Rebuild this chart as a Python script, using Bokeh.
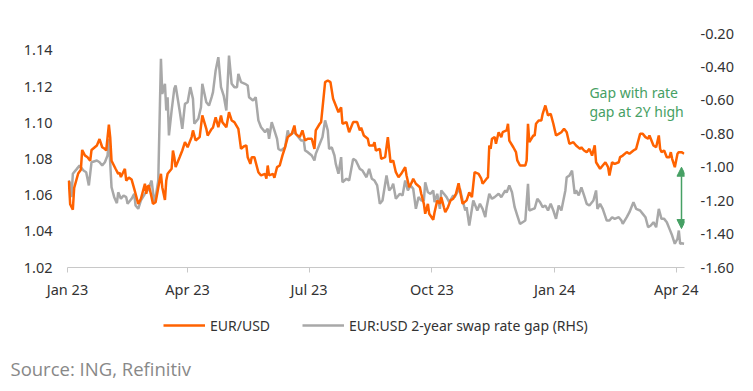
import pandas as pd
from bokeh.plotting import figure
from bokeh.layouts import column
from bokeh.models import (Range1d, LinearAxis, FixedTicker, DatetimeTickFormatter,
                          NumeralTickFormatter, Legend, LegendItem, Label, Arrow,
                          NormalHead, ColumnDataSource)
from bokeh.embed import file_html
from bokeh.resources import INLINE

# ---------------- data ----------------
eur_dates = [
 "2023-01-02","2023-01-03","2023-01-05","2023-01-06","2023-01-09","2023-01-11","2023-01-12","2023-01-14","2023-01-16","2023-01-18",
 "2023-01-19","2023-01-23","2023-01-25","2023-01-27","2023-01-29","2023-01-30","2023-02-01","2023-02-02","2023-02-03","2023-02-06",
 "2023-02-08","2023-02-09","2023-02-10","2023-02-13","2023-02-14","2023-02-16","2023-02-18","2023-02-20","2023-02-21","2023-02-23",
 "2023-02-25","2023-02-28","2023-03-01","2023-03-02","2023-03-03","2023-03-05","2023-03-06","2023-03-08","2023-03-11","2023-03-12",
 "2023-03-13","2023-03-15","2023-03-16","2023-03-17","2023-03-20","2023-03-21","2023-03-22","2023-03-23","2023-03-26","2023-03-28",
 "2023-03-30","2023-04-01","2023-04-04","2023-04-05","2023-04-07","2023-04-10","2023-04-12","2023-04-15","2023-04-16","2023-04-19",
 "2023-04-20","2023-04-22","2023-04-24","2023-04-26","2023-04-27","2023-04-30","2023-05-02","2023-05-04","2023-05-06","2023-05-09",
 "2023-05-11","2023-05-13","2023-05-15","2023-05-16","2023-05-18","2023-05-19","2023-05-21","2023-05-24","2023-05-26","2023-05-29",
 "2023-05-30","2023-05-31","2023-06-01","2023-06-04","2023-06-05","2023-06-07","2023-06-09","2023-06-11","2023-06-13","2023-06-15",
 "2023-06-18","2023-06-20","2023-06-21","2023-06-24","2023-06-26","2023-06-28","2023-06-30","2023-07-03","2023-07-05","2023-07-06",
 "2023-07-09","2023-07-10","2023-07-13","2023-07-15","2023-07-17","2023-07-19","2023-07-21","2023-07-23","2023-07-25","2023-07-26",
 "2023-07-29","2023-07-31","2023-08-03","2023-08-06","2023-08-08","2023-08-09","2023-08-11","2023-08-14","2023-08-15","2023-08-18",
 "2023-08-19","2023-08-20","2023-08-23","2023-08-24","2023-08-27","2023-08-29","2023-08-31","2023-09-02","2023-09-04","2023-09-06",
 "2023-09-08","2023-09-11","2023-09-12","2023-09-14","2023-09-16","2023-09-17","2023-09-19","2023-09-22","2023-09-23","2023-09-25",
 "2023-09-26","2023-09-28","2023-09-29","2023-10-02","2023-10-03","2023-10-05","2023-10-07","2023-10-08","2023-10-10","2023-10-11",
 "2023-10-13","2023-10-15","2023-10-17","2023-10-19","2023-10-21","2023-10-23","2023-10-24","2023-10-27","2023-10-29","2023-10-31",
 "2023-11-02","2023-11-05","2023-11-07","2023-11-08","2023-11-11","2023-11-12","2023-11-13","2023-11-14","2023-11-15","2023-11-17",
 "2023-11-18","2023-11-20","2023-11-22","2023-11-23","2023-11-26","2023-11-27","2023-11-28","2023-12-01","2023-12-03","2023-12-04",
 "2023-12-06","2023-12-10","2023-12-11","2023-12-12","2023-12-13","2023-12-16","2023-12-17","2023-12-18","2023-12-20","2023-12-22",
 "2023-12-23","2023-12-25","2023-12-27","2023-12-29","2023-12-31","2024-01-02","2024-01-04","2024-01-06","2024-01-08","2024-01-10",
 "2024-01-12","2024-01-15","2024-01-17","2024-01-20","2024-01-21","2024-01-23","2024-01-25","2024-01-27","2024-01-29","2024-01-31",
 "2024-02-01","2024-02-04","2024-02-06","2024-02-08","2024-02-10","2024-02-11","2024-02-13","2024-02-15","2024-02-18","2024-02-19",
 "2024-02-21","2024-02-24","2024-02-26","2024-02-29","2024-03-02","2024-03-05","2024-03-07","2024-03-09","2024-03-11","2024-03-12",
 "2024-03-15","2024-03-17","2024-03-19","2024-03-20","2024-03-21","2024-03-23","2024-03-25","2024-03-27","2024-03-28","2024-03-29",
 "2024-03-31","2024-04-02","2024-04-03","2024-04-05","2024-04-07",
]
eur_usd = [
 1.068,1.055,1.052,1.064,1.072,1.074,1.085,1.082,1.081,1.079,
 1.085,1.0875,1.091,1.0865,1.0856,1.0847,1.099,1.092,1.079,1.0746,
 1.0718,1.0725,1.070,1.0746,1.068,1.0698,1.0687,1.0635,1.0608,1.0552,
 1.058,1.0663,1.0608,1.0648,1.0653,1.0589,1.0552,1.0561,1.0681,1.0718,
 1.0644,1.0574,1.0681,1.0718,1.0746,1.0847,1.081,1.0755,1.081,1.0847,
 1.0893,1.0865,1.0921,1.0958,1.0902,1.0921,1.1041,1.0967,1.093,1.0967,
 1.0974,1.1031,1.0976,1.1041,1.1004,1.0976,1.1059,1.1013,1.1004,1.0967,
 1.0856,1.0869,1.0875,1.081,1.0773,1.081,1.081,1.0727,1.0709,1.0718,
 1.0691,1.0764,1.0709,1.0718,1.0696,1.0755,1.0764,1.0819,1.0865,1.0921,
 1.0939,1.0985,1.0939,1.0921,1.0958,1.0902,1.0912,1.0912,1.0856,1.0958,
 1.0995,1.1004,1.1225,1.1234,1.1225,1.1133,1.1096,1.1059,1.1086,1.0995,
 1.1004,1.0948,1.1004,1.1004,1.0958,1.0974,1.093,1.0912,1.0875,1.0875,
 1.0893,1.0847,1.0856,1.0801,1.081,1.0921,1.0782,1.0792,1.0727,1.0699,
 1.0718,1.0755,1.0709,1.0644,1.0672,1.0691,1.0663,1.0644,1.0608,1.0552,
 1.0497,1.0552,1.0497,1.0464,1.0506,1.0571,1.0552,1.0589,1.0533,1.0506,
 1.0533,1.0571,1.058,1.0608,1.0666,1.0589,1.0552,1.0571,1.0616,1.0589,
 1.0727,1.0718,1.0691,1.0663,1.0691,1.0698,1.0875,1.0856,1.0912,1.0921,
 1.0884,1.0948,1.0921,1.0948,1.0958,1.0995,1.0902,1.0865,1.0838,1.0792,
 1.0764,1.0764,1.0792,1.0995,1.0893,1.093,1.093,1.0995,1.1013,1.1013,
 1.105,1.1096,1.1041,1.105,1.0995,1.093,1.0939,1.0948,1.0967,1.0948,
 1.0884,1.0893,1.0875,1.0856,1.0864,1.0847,1.0838,1.0856,1.0819,1.0875,
 1.0782,1.0746,1.0764,1.0782,1.0755,1.0709,1.0782,1.0773,1.0782,1.081,
 1.0819,1.0838,1.0829,1.0847,1.0856,1.0939,1.0939,1.0921,1.0912,1.093,
 1.0875,1.0865,1.093,1.0856,1.0838,1.0847,1.081,1.081,1.0838,1.0801,
 1.0755,1.0829,1.0838,1.0838,1.0829,
]

gap_dates = [
 "2023-01-02","2023-01-03","2023-01-04","2023-01-05","2023-01-08","2023-01-10","2023-01-13","2023-01-15","2023-01-17","2023-01-19",
 "2023-01-23","2023-01-25","2023-01-27","2023-01-29","2023-01-31","2023-02-01","2023-02-03","2023-02-05","2023-02-07","2023-02-08",
 "2023-02-10","2023-02-12","2023-02-14","2023-02-15","2023-02-18","2023-02-20","2023-02-21","2023-02-23","2023-02-25","2023-02-28",
 "2023-03-02","2023-03-03","2023-03-05","2023-03-07","2023-03-08","2023-03-10","2023-03-12","2023-03-13","2023-03-15","2023-03-16",
 "2023-03-17","2023-03-18","2023-03-20","2023-03-22","2023-03-23","2023-03-26","2023-03-28","2023-03-30","2023-04-01","2023-04-03",
 "2023-04-05","2023-04-06","2023-04-09","2023-04-11","2023-04-12","2023-04-15","2023-04-17","2023-04-19","2023-04-20","2023-04-22",
 "2023-04-24","2023-04-26","2023-04-28","2023-04-30","2023-05-02","2023-05-04","2023-05-06","2023-05-08","2023-05-09","2023-05-11",
 "2023-05-14","2023-05-16","2023-05-17","2023-05-20","2023-05-22","2023-05-24","2023-05-26","2023-05-29","2023-05-31","2023-06-01",
 "2023-06-03","2023-06-05","2023-06-07","2023-06-08","2023-06-10","2023-06-13","2023-06-15","2023-06-16","2023-06-18","2023-06-20",
 "2023-06-22","2023-06-25","2023-06-27","2023-06-28","2023-06-30","2023-07-03","2023-07-05","2023-07-06","2023-07-09","2023-07-11",
 "2023-07-13","2023-07-15","2023-07-16","2023-07-18","2023-07-20","2023-07-21","2023-07-23","2023-07-25","2023-07-26","2023-07-29",
 "2023-07-31","2023-08-03","2023-08-05","2023-08-08","2023-08-10","2023-08-13","2023-08-15","2023-08-17","2023-08-19","2023-08-21",
 "2023-08-23","2023-08-25","2023-08-28","2023-08-30","2023-09-01","2023-09-02","2023-09-04","2023-09-07","2023-09-09","2023-09-11",
 "2023-09-13","2023-09-15","2023-09-17","2023-09-19","2023-09-21","2023-09-23","2023-09-25","2023-09-26","2023-09-28","2023-09-30",
 "2023-10-02","2023-10-03","2023-10-05","2023-10-07","2023-10-08","2023-10-10","2023-10-12","2023-10-14","2023-10-17","2023-10-18",
 "2023-10-20","2023-10-22","2023-10-24","2023-10-26","2023-10-27","2023-10-29","2023-11-01","2023-11-02","2023-11-04","2023-11-06",
 "2023-11-08","2023-11-10","2023-11-11","2023-11-13","2023-11-15","2023-11-17","2023-11-20","2023-11-22","2023-11-25","2023-11-26",
 "2023-11-28","2023-11-30","2023-12-02","2023-12-04","2023-12-06","2023-12-08","2023-12-10","2023-12-12","2023-12-13","2023-12-16",
 "2023-12-17","2023-12-19","2023-12-21","2023-12-23","2023-12-25","2023-12-27","2023-12-29","2023-12-31","2024-01-02","2024-01-04",
 "2024-01-06","2024-01-07","2024-01-09","2024-01-10","2024-01-12","2024-01-14","2024-01-16","2024-01-17","2024-01-19","2024-01-21",
 "2024-01-23","2024-01-25","2024-01-27","2024-01-30","2024-02-01","2024-02-02","2024-02-04","2024-02-06","2024-02-09","2024-02-11",
 "2024-02-13","2024-02-15","2024-02-18","2024-02-20","2024-02-21","2024-02-24","2024-02-26","2024-02-29","2024-03-02","2024-03-05",
 "2024-03-07","2024-03-09","2024-03-11","2024-03-13","2024-03-15","2024-03-17","2024-03-19","2024-03-21","2024-03-23","2024-03-25",
 "2024-03-27","2024-03-29","2024-03-31","2024-04-02","2024-04-03","2024-04-04","2024-04-05","2024-04-07",
]
swap_gap = [
 -1.08,-1.099,-1.179,-1.039,-1.01,-0.99,-1.02,-1.03,-1.109,-0.97,
 -0.96,-0.97,-0.99,-0.97,-0.93,-0.83,-1.12,-1.179,-1.215,-1.15,
 -1.189,-1.169,-1.179,-1.219,-1.189,-1.159,-1.229,-1.249,-1.199,-1.159,
 -1.139,-1.12,-1.08,-1.209,-1.179,-1.08,-0.351,-0.561,-0.501,-0.661,
 -0.581,-0.81,-0.661,-0.531,-0.511,-0.661,-0.77,-0.621,-0.611,-0.521,
 -0.591,-0.74,-0.71,-0.641,-0.501,-0.611,-0.631,-0.581,-0.551,-0.421,
 -0.342,-0.521,-0.571,-0.661,-0.332,-0.501,-0.521,-0.521,-0.441,-0.491,
 -0.501,-0.511,-0.581,-0.601,-0.581,-0.72,-0.761,-0.79,-0.77,-0.83,
 -0.731,-0.78,-0.83,-0.89,-0.90,-0.88,-0.78,-0.81,-0.80,-0.79,
 -0.81,-0.84,-0.84,-0.90,-0.91,-0.93,-0.96,-0.92,-0.86,-0.82,
 -0.72,-0.78,-0.89,-0.882,-0.93,-0.98,-1.039,-0.94,-1.09,-1.069,
 -1.08,-0.95,-0.96,-1.01,-1.02,-1.06,-1.01,-1.069,-1.08,-1.109,
 -1.219,-1.199,-1.05,-1.139,-1.12,-1.099,-1.189,-1.159,-1.169,-1.08,
 -1.139,-1.109,-1.129,-1.249,-1.179,-1.199,-1.199,-1.09,-1.15,-1.159,
 -1.139,-1.209,-1.159,-1.249,-1.139,-1.159,-1.179,-1.209,-1.169,-1.179,
 -1.15,-1.129,-1.199,-1.259,-1.239,-1.349,-1.199,-1.219,-1.259,-1.219,
 -1.249,-1.299,-1.239,-1.159,-1.189,-1.179,-1.159,-1.179,-1.139,-1.151,
 -1.109,-1.15,-1.239,-1.289,-1.339,-1.329,-1.319,-1.099,-1.259,-1.249,
 -1.247,-1.189,-1.209,-1.239,-1.229,-1.259,-1.219,-1.259,-1.309,-1.229,
 -1.259,-1.219,-1.139,-1.06,-1.05,-1.02,-1.159,-1.139,-1.169,-1.12,
 -1.169,-1.219,-1.229,-1.199,-1.139,-1.249,-1.219,-1.249,-1.319,-1.319,
 -1.299,-1.309,-1.299,-1.319,-1.339,-1.299,-1.269,-1.209,-1.249,-1.259,
 -1.279,-1.299,-1.359,-1.349,-1.329,-1.359,-1.249,-1.309,-1.309,-1.329,
 -1.369,-1.409,-1.458,-1.428,-1.379,-1.458,-1.455,-1.458,
]

left_ticks = [1.02, 1.04, 1.06, 1.08, 1.10, 1.12, 1.14]
right_ticks = [-1.60, -1.40, -1.20, -1.00, -0.80, -0.60, -0.40, -0.20]
x_tick_dates = ["2023-01-01", "2023-04-01", "2023-07-01", "2023-10-01", "2024-01-01", "2024-04-01"]
series_labels = ["EUR/USD", "EUR:USD 2-year swap rate gap (RHS)"]
note_lines = ["Gap with rate", "gap at 2Y high"]
source_text = "Source: ING, Refinitiv"

# ---------------- styling ----------------
ORANGE = "#FF6200"
GREY = "#A8A8A8"
GREEN = "#46A064"
TXT = "#333333"
FONT = "Noto Sans"
W = 745


def ms(d):
    return pd.Timestamp(d).timestamp() * 1000.0


eur_src = ColumnDataSource(dict(x=pd.to_datetime(eur_dates), y=eur_usd))
gap_src = ColumnDataSource(dict(x=pd.to_datetime(gap_dates), y=swap_gap))

fig = figure(frame_width=617, frame_height=234, x_axis_type="datetime",
             x_range=Range1d(pd.Timestamp("2023-01-01"), pd.Timestamp("2024-04-07 06:00")),
             y_range=Range1d(1.02, 1.1494),
             output_backend="svg", toolbar_location=None,
             min_border_left=67, min_border_right=61, min_border_top=33, min_border_bottom=40)
fig.frame_align = False
fig.extra_y_ranges = {"right": Range1d(-1.6, -0.2)}
fig.outline_line_color = None
fig.xgrid.visible = False
fig.ygrid.visible = False
fig.background_fill_color = "white"

# x axis
xa = fig.xaxis[0]
xa.ticker = FixedTicker(ticks=[ms(d) for d in x_tick_dates])
xa.formatter = DatetimeTickFormatter(years="%b %y", months="%b %y", days="%b %y",
                                     hours="%b %y", hourmin="%b %y", minutes="%b %y")
xa.axis_line_color = "#C8C8C8"
xa.axis_line_width = 1.2
xa.major_tick_line_color = "#C8C8C8"
xa.major_tick_out = 5
xa.major_tick_in = 0
xa.minor_tick_line_color = None
xa.major_label_standoff = 6
xa.major_label_text_font = FONT
xa.major_label_text_font_size = "14.5px"
xa.major_label_text_color = TXT

# left axis
ya = fig.yaxis[0]
ya.ticker = FixedTicker(ticks=left_ticks)
ya.formatter = NumeralTickFormatter(format="0.00")
ya.axis_line_color = None
ya.major_tick_line_color = None
ya.minor_tick_line_color = None
ya.major_tick_out = 0
ya.major_tick_in = 0
ya.major_label_standoff = 15
ya.major_label_text_font = FONT
ya.major_label_text_font_size = "14.5px"
ya.major_label_text_color = TXT

# right axis
ra = LinearAxis(y_range_name="right", ticker=FixedTicker(ticks=right_ticks),
                formatter=NumeralTickFormatter(format="0.00"))
ra.axis_line_color = None
ra.major_tick_line_color = None
ra.minor_tick_line_color = None
ra.major_tick_out = 0
ra.major_tick_in = 0
ra.major_label_standoff = 16
ra.major_label_text_font = FONT
ra.major_label_text_font_size = "14.5px"
ra.major_label_text_color = TXT
fig.add_layout(ra, "right")

fig.line("x", "y", source=gap_src, y_range_name="right", color=GREY, line_width=2.5)
fig.line("x", "y", source=eur_src, color=ORANGE, line_width=2.5)

# annotation
note_x = ms("2024-01-27")
fig.add_layout(Label(x=note_x, y=-0.553, y_range_name="right", text=note_lines[0],
                     text_font=FONT, text_font_size="14px", text_color=GREEN,
                     text_baseline="middle", text_align="left"))
fig.add_layout(Label(x=note_x, y=-0.667, y_range_name="right", text=note_lines[1],
                     text_font=FONT, text_font_size="14px", text_color=GREEN,
                     text_baseline="middle", text_align="left"))
arr_x = ms("2024-04-05")
fig.add_layout(Arrow(x_start=arr_x, y_start=-1.0, x_end=arr_x, y_end=-1.367,
                     y_range_name="right", line_color=GREEN, line_width=1.5,
                     start=NormalHead(size=9, fill_color=GREEN, line_color=GREEN),
                     end=NormalHead(size=9, fill_color=GREEN, line_color=GREEN)))

# ---------------- footer: legend + source ----------------
FH = 80
foot = figure(width=W, height=FH, x_range=Range1d(0, W), y_range=Range1d(0, FH),
              x_axis_location=None, y_axis_location=None,
              output_backend="svg", toolbar_location=None,
              min_border=0, min_border_left=0, min_border_right=0,
              min_border_top=0, min_border_bottom=0)
foot.frame_align = False
foot.outline_line_color = None
foot.xgrid.visible = False
foot.ygrid.visible = False
# off-screen stand-ins that only provide the legend swatches
k_eur = foot.line(x=[-20, -10], y=[-20, -10], color=ORANGE, line_width=2.5)
k_gap = foot.line(x=[-20, -10], y=[-20, -10], color=GREY, line_width=2.5)
legend = Legend(items=[LegendItem(label=series_labels[0], renderers=[k_eur]),
                       LegendItem(label=series_labels[1], renderers=[k_gap])],
                orientation="horizontal", location=(163, 52),
                glyph_width=42, glyph_height=20, label_standoff=5, spacing=32,
                padding=0, margin=0, border_line_color=None, background_fill_alpha=0,
                label_text_font=FONT, label_text_font_size="14px", label_text_color=TXT)
foot.add_layout(legend)
foot.add_layout(Label(x=10, y=19, x_units="screen", y_units="screen", text=source_text,
                      text_font="Open Sans", text_font_size="18.5px", text_color="#888888",
                      text_baseline="middle", text_align="left"))

p = column(fig, foot, spacing=0)
open("out.html", "w").write(file_html(p, INLINE))
